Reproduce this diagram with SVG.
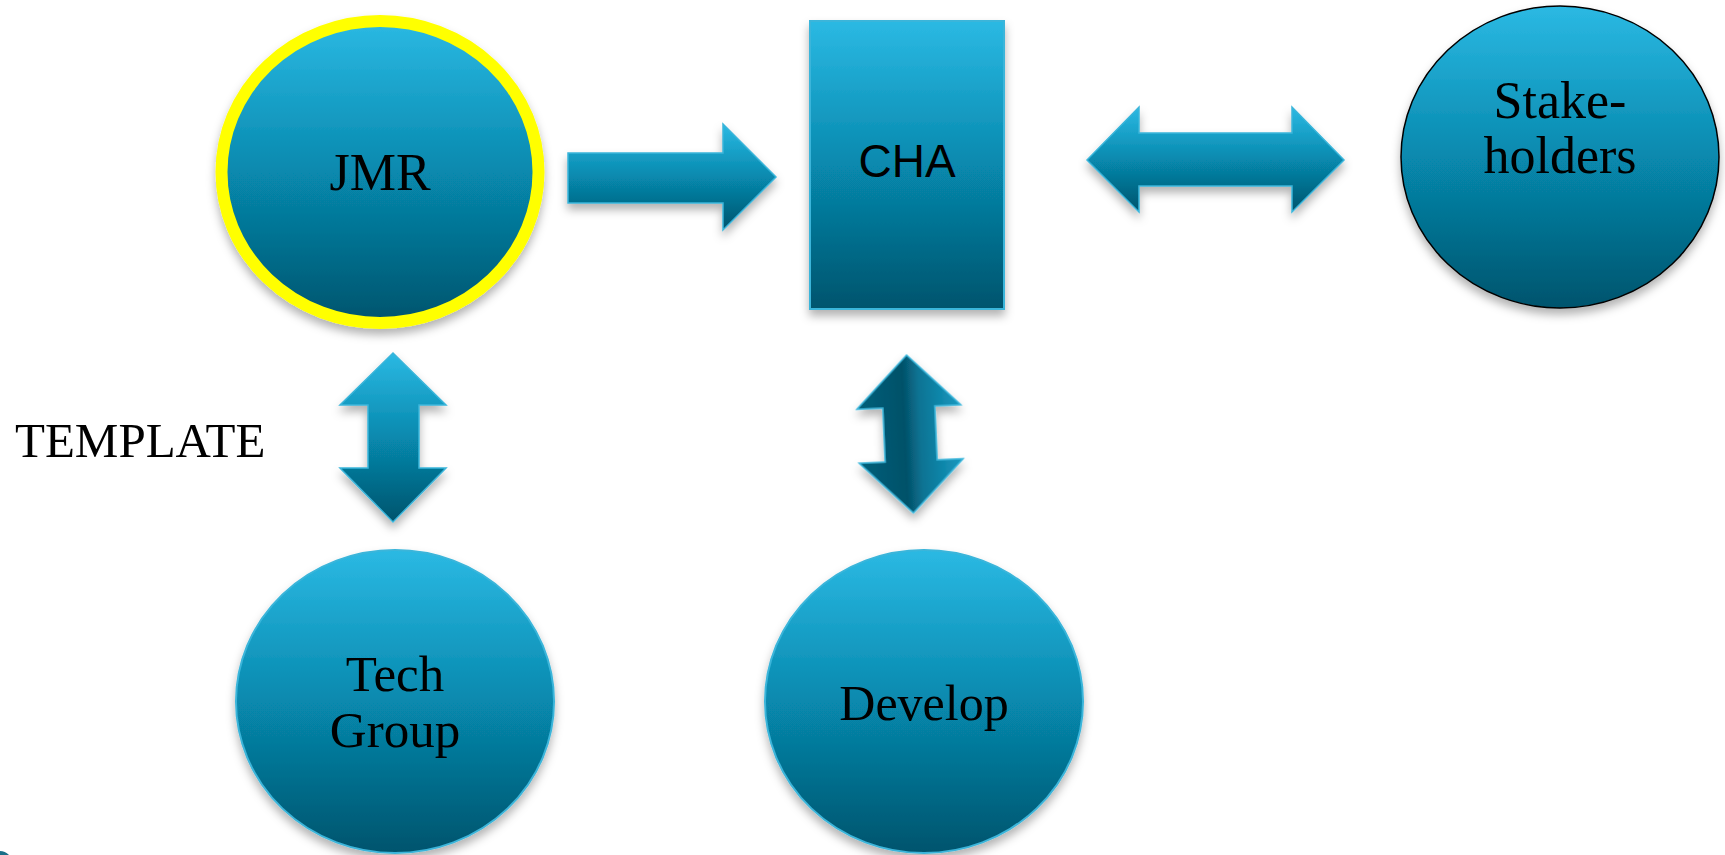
<svg xmlns="http://www.w3.org/2000/svg" width="1725" height="855" viewBox="0 0 1725 855">
  <defs>
    <linearGradient id="gv" x1="0" y1="0" x2="0" y2="1">
      <stop offset="0" stop-color="#2bb9e3"/>
      <stop offset="0.5" stop-color="#0789ae"/>
      <stop offset="1" stop-color="#03546d"/>
    </linearGradient>
    <linearGradient id="gh" x1="0" y1="0" x2="1" y2="0">
      <stop offset="0" stop-color="#06607b"/>
      <stop offset="0.45" stop-color="#045169"/>
      <stop offset="0.6" stop-color="#0a7393"/>
      <stop offset="1" stop-color="#1799c0"/>
    </linearGradient>
    <filter id="sh" x="-20%" y="-20%" width="140%" height="150%">
      <feDropShadow dx="0" dy="6" stdDeviation="5" flood-color="#000" flood-opacity="0.3"/>
    </filter>
  </defs>
  <style>
    .shape { fill: url(#gv); stroke: #3ab5da; stroke-width: 2; filter: url(#sh); }
    .arrow { fill: url(#gv); stroke: #3ab5da; stroke-width: 1.5; filter: url(#sh); }
    .serif { font-family: "Liberation Serif", "Times New Roman", serif; fill: #000; text-anchor: middle; }
    .sans { font-family: "Liberation Sans", Arial, sans-serif; fill: #000; text-anchor: middle; }
  </style>
  <rect width="1725" height="855" fill="#ffffff"/>

  <g id="connectors">
    <path class="arrow" d="M568,153 L723,153 L723,124 L776,177 L723,230 L723,203 L568,203 Z"/>
    <path class="arrow" d="M1087,160 L1139,107 L1139,133 L1292,133 L1292,107 L1344,160 L1292,212 L1292,186 L1139,186 L1139,212 Z"/>
    <path class="arrow" d="M393,353 L446,405 L419,405 L419,468 L446,468 L393,522 L340,468 L368,468 L368,405 L340,405 Z"/>
    <path class="arrow" style="fill:url(#gh)" transform="rotate(-2.5 910 434)" d="M910,355 L962,407 L936,407 L936,461 L962,461 L910,513 L858,461 L884,461 L884,407 L858,407 Z"/>
  </g>

  <g id="node-jmr">
    <ellipse cx="380" cy="172" rx="158.5" ry="151" fill="url(#gv)" stroke="#ffff00" stroke-width="12" filter="url(#sh)"/>
    <text class="serif" x="380" y="190" font-size="52">JMR</text>
  </g>

  <g id="node-cha">
    <rect class="shape" x="810" y="21" width="194" height="288"/>
    <text class="sans" x="907" y="177" font-size="46">CHA</text>
  </g>

  <g id="node-stakeholders">
    <ellipse cx="1560" cy="157" rx="159" ry="151" fill="url(#gv)" stroke="#000" stroke-width="1.5" filter="url(#sh)"/>
    <text class="serif" x="1560" y="118" font-size="52">Stake-</text>
    <text class="serif" x="1560" y="173" font-size="52">holders</text>
  </g>

  <g id="node-techgroup">
    <ellipse class="shape" cx="395" cy="701.5" rx="159" ry="151.5"/>
    <text class="serif" x="395" y="691" font-size="51">Tech</text>
    <text class="serif" x="395" y="747" font-size="51">Group</text>
  </g>

  <g id="node-develop">
    <ellipse class="shape" cx="924" cy="701.5" rx="159" ry="151.5"/>
    <text class="serif" x="924" y="720" font-size="50">Develop</text>
  </g>

  <g id="label-template">
    <text x="15" y="457" font-size="49" style="font-family:'Liberation Serif','Times New Roman',serif;fill:#000">TEMPLATE</text>
  </g>

  <path d="M0,851 Q5,851 9,855 L0,855 Z" fill="#1a6f88"/>
</svg>
